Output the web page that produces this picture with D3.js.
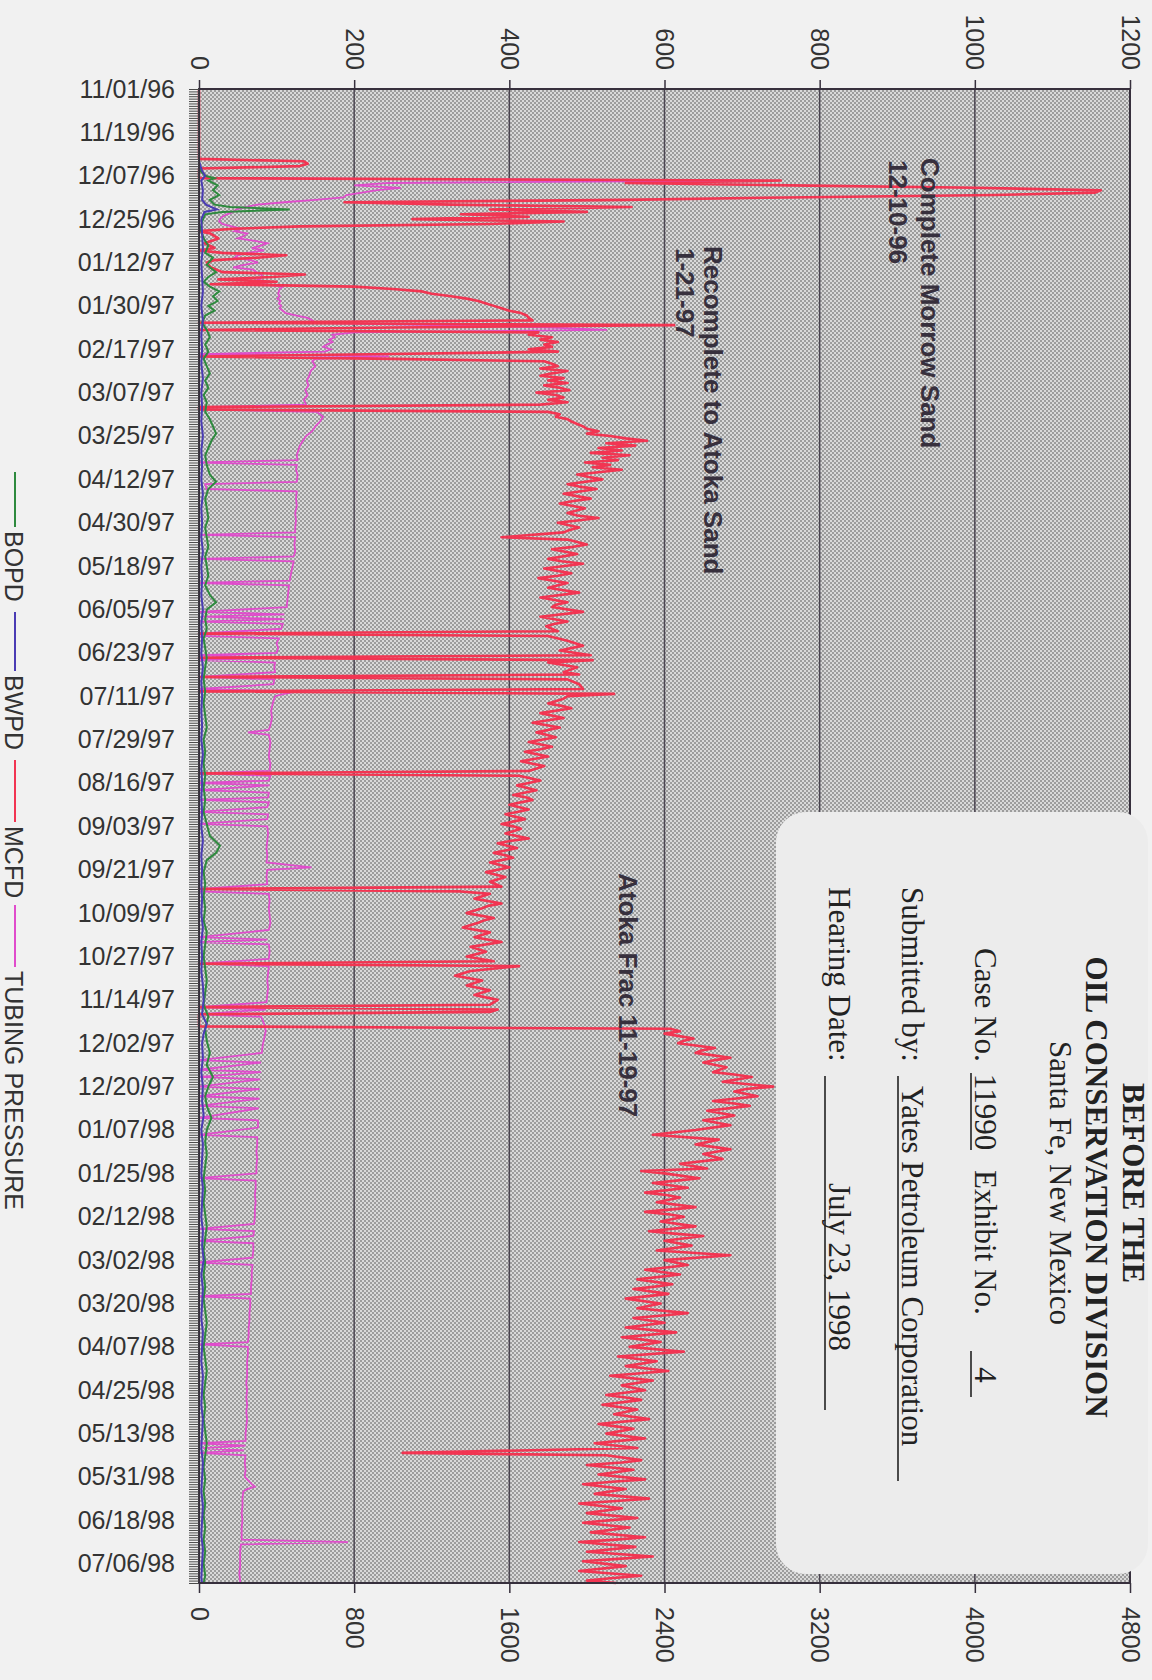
<!DOCTYPE html>
<html>
<head>
<meta charset="utf-8">
<script src="https://cdn.jsdelivr.net/npm/d3@7"></script>
<style>
body{margin:0;background:#f1f1f1;}
svg{display:block;}
</style>
</head>
<body>
<svg width="1152" height="1680"></svg>
<script>
// date labels down the side (every 18 days)
const dateLabels=['11/01/96','11/19/96','12/07/96','12/25/96','01/12/97','01/30/97','02/17/97','03/07/97','03/25/97',
  '04/12/97','04/30/97','05/18/97','06/05/97','06/23/97','07/11/97','07/29/97','08/16/97','09/03/97','09/21/97',
  '10/09/97','10/27/97','11/14/97','12/02/97','12/20/97','01/07/98','01/25/98','02/12/98','03/02/98','03/20/98',
  '04/07/98','04/25/98','05/13/98','05/31/98','06/18/98','07/06/98'];
const pressTicks=[0,200,400,600,800,1000,1200];
const gasTicks=[0,800,1600,2400,3200,4000,4800];

// [days since 11/01/96, value]
const mcfd=[[0,0],[29,0],[30,540],[31,560],[32,520],[33,0],[37,0],
[38,3000],[39,2200],[40,3050],[41,4000],[42,4650],[43,4620],[44,4100],[45,3030],[46,2200],[47,750],
[48,1300],[49,2230],[50,1500],[51,2000],[52,1350],[53,1700],[54,1100],[55,1880],[56,1500],[57,520],[58,180],[59,0],
[60,60],[62,100],[64,30],[66,80],[67,0],[68,120],[69,450],[70,300],[71,80],[72,40],[74,60],[76,120],[77,546],
[78,380],[79,100],[80,400],[81,60],
[82,800],[83,1000],[84,1150],[85,1200],[86,1300],[87,1380],[88,1440],[89,1480],[90,1520],[91,1560],[92,1600],
[93,1660],[94,1690],[95,1700],[96,1720],[97,0],[98,2450],[99,1000],[100,0],
[101,1750],[102,1700],[103,1820],[104,1760],[105,1850],[106,1780],[107,1820],[108,1700],[109,1850],[110,980],[111,0],
[112,1000],[113,1780],[114,1820],[115,1850],[116,1760],[117,1900],[118,1820],[119,1760],[120,1880],[121,1800],
[122,1900],[123,1780],[124,1860],[125,1910],[126,1740],[127,1840],[128,1880],[129,1800],[130,1900],[131,1760],
[132,0],[133,0],[134,1800],[135,1860],[136,1840],[137,1900],[138,1920],[139,1950],[140,1980],[141,2000],[142,2060],
[143,2000],[144,2120],[145,2200],[146,2310],[147,2100],[148,2250],[149,2060],[150,2180],[151,2020],[152,2220],
[153,2080],[154,2160],[155,1990],[156,2120],[157,2030],[158,2180],[160,1950],[161,2010],[162,2080],[164,1900],
[165,1960],[166,2050],[168,1880],[170,2020],[171,1930],[172,1860],[174,1990],[176,1900],[177,1950],[178,2060],
[180,1850],[182,1960],[183,1910],[184,1880],[186,1560],[187,1900],[189,2000],[190,1930],[191,1820],[193,1950],
[195,1800],[196,1870],[197,1980],[199,1780],[201,1920],[202,1850],[203,1750],[205,1900],[207,1800],[208,1880],
[209,1960],[211,1760],[213,1900],[214,1840],[215,1820],[217,1980],[219,1760],[221,1900],[222,1830],[223,1790],
[225,1850],[226,0],[227,1800],[229,1900],[231,1980],[233,1860],[235,2020],[236,0],[237,2030],[238,1800],
[240,1950],[242,1880],[243,1960],[244,0],[245,1900],[247,1960],[249,1980],[250,0],[251,2140],[252,1900],
[253,1880],[255,1800],[256,1870],[257,1920],[259,1760],[261,1880],[262,1800],[263,1720],[265,1860],[267,1740],
[268,1790],[269,1840],[271,1700],[273,1820],[274,1760],[275,1680],[277,1800],[279,1660],[280,1720],[281,1780],
[283,1700],[284,0],[285,1650],[287,1760],[288,1700],[289,1640],[291,1740],[293,1620],[294,1690],[295,1720],
[297,1600],[299,1700],[300,1640],[301,1580],[303,1680],[305,1560],[306,1620],[307,1660],[309,1580],[311,1700],
[312,1610],[313,1540],[315,1640],[317,1520],[318,1580],[319,1620],[321,1500],[323,1600],[324,1540],[325,1480],
[327,1580],[329,1500],[331,1560],[332,0],[333,1350],[334,1500],[336,1420],[338,1560],[339,1490],[340,1460],
[342,1380],[344,1520],[345,1470],[346,1440],[348,1360],[350,1500],[352,1420],[354,1560],[356,1400],[358,1480],
[360,1380],[362,1520],[363,0],[364,1650],[366,1400],[368,1320],[370,1460],[372,1380],[374,1500],[376,1420],
[378,1540],[380,1500],[381,0],[382,1540],[383,1500],[384,0],[389,0],
[390,2430],[391,2480],[392,2400],[394,2550],[395,2500],[396,2470],[398,2660],[399,2590],[400,2560],[402,2740],
[403,2660],[404,2600],[406,2720],[408,2650],[409,2760],[410,2850],[412,2700],[414,2960],[415,2820],[416,2760],
[418,2880],[420,2650],[421,2760],[422,2840],[424,2620],[426,2760],[427,2690],[428,2600],[430,2740],[432,2560],
[434,2340],[436,2680],[438,2560],[439,2650],[440,2740],[442,2600],[444,2700],[446,2480],[448,2620],[449,2280],
[450,2400],[452,2580],[453,2460],[454,2340],[456,2520],[458,2300],[459,2410],[460,2480],[462,2360],[464,2560],
[466,2300],[467,2420],[468,2500],[470,2380],[472,2560],[474,2320],[475,2450],[476,2600],[478,2400],[480,2540],
[482,2360],[484,2740],[486,2400],[488,2520],[489,2420],[490,2300],[492,2480],[494,2260],[496,2440],[497,2350],
[498,2240],[500,2420],[502,2200],[504,2380],[506,2260],[508,2520],[509,2390],[510,2240],[512,2400],[514,2200],
[516,2460],[518,2180],[519,2290],[520,2380],[522,2220],[524,2500],[526,2160],[528,2360],[530,2200],[531,2310],
[532,2420],[534,2120],[536,2340],[538,2180],[540,2300],[542,2100],[543,2200],[544,2280],[546,2080],[548,2260],
[550,2140],[552,2320],[554,2060],[555,2150],[556,2240],[558,2100],[560,2300],[562,2040],[564,2260],
[566,1050],[567,2100],[569,2280],[570,2180],[571,2000],[573,2240],[575,2060],[577,2300],[578,2130],[579,1980],
[581,2200],[583,2040],[585,2320],[586,2150],[587,1960],[589,2180],[591,2000],[593,2260],[594,2110],[595,1980],
[597,2220],[599,2020],[601,2300],[602,2150],[603,1960],[605,2250],[607,2000],[609,2340],[610,2160],[611,1980],
[613,2200],[615,1960],[617,2280],[618,2120],[619,2000],[620,2150]];

const tubing=[[0,0],[37,0],[38,724],[39,245],[40,200],[41,260],[42,230],[43,210],[44,190],[45,186],[46,150],
[47,110],[48,75],[49,60],[50,48],[51,44],[52,36],[53,30],[54,27],[55,26],[56,30],[57,42],[58,55],[59,46],[60,62],
[61,58],[62,50],[63,72],[64,88],[65,80],[66,68],[67,84],[68,62],[69,50],[70,46],[71,66],[72,76],[73,58],[74,44],
[75,70],[76,74],[77,80],[78,82],[79,76],[80,84],[81,82],[82,108],[83,104],[84,103],[85,102],[86,104],[87,101],
[88,105],[89,103],[90,106],[91,104],[92,108],[93,112],[94,126],[95,140],[96,146],[97,150],[98,300],[99,455],
[100,526],[101,200],[102,172],[103,175],[104,168],[105,172],[106,165],[107,160],[108,170],[109,162],[110,0],
[111,245],[112,150],[113,146],[115,150],[117,144],[119,142],[121,139],[123,141],[125,137],[127,140],[129,135],
[131,138],[132,0],[133,0],[134,152],[136,160],[138,156],[140,150],[142,146],[144,138],[146,134],[148,130],
[150,128],[152,126],[154,127],[155,0],[156,126],[158,125],[160,127],[163,126],[164,8],[166,10],[167,126],
[170,125],[173,126],[176,124],[179,125],[182,124],[184,124],[185,0],[186,124],[189,123],[192,124],[194,122],
[195,0],[196,122],[199,120],[202,118],[204,117],[205,0],[206,116],[209,115],[212,114],[215,113],[217,0],
[218,110],[219,5],[220,110],[221,0],[222,108],[224,106],[226,0],[227,0],[228,103],[230,100],[232,102],[234,100],
[235,0],[236,99],[237,0],[238,98],[240,97],[242,98],[244,0],[245,97],[247,96],[249,0],[250,126],[251,110],
[252,98],[255,95],[258,93],[261,94],[264,92],[266,90],[267,63],[268,90],[271,92],[274,91],[277,90],[280,92],
[283,91],[284,0],[285,92],[287,90],[288,0],[289,91],[291,0],[292,90],[294,89],[295,0],[296,90],[298,88],[300,0],
[301,89],[303,88],[305,0],[306,88],[309,89],[312,88],[315,87],[318,88],[321,87],[323,145],[324,88],[327,87],
[330,88],[332,0],[333,0],[334,90],[337,91],[340,90],[343,91],[346,92],[349,90],[352,0],[353,88],[354,0],
[355,90],[358,91],[361,90],[363,0],[364,90],[367,89],[370,88],[373,89],[376,88],[379,87],[381,0],[382,86],
[384,0],[385,80],[388,84],[391,86],[394,84],[397,82],[400,81],[403,0],[404,80],[407,0],[408,80],[410,0],
[411,79],[414,0],[415,78],[418,0],[419,78],[422,0],[423,77],[427,0],[428,76],[431,76],[434,0],[435,75],
[438,75],[441,74],[444,75],[447,74],[450,74],[452,0],[453,73],[456,73],[459,72],[462,73],[465,72],[468,72],
[471,71],[473,0],[474,71],[476,70],[478,0],[479,70],[482,70],[485,69],[487,0],[488,69],[491,68],[494,68],
[497,67],[500,67],[501,0],[502,66],[505,66],[508,65],[511,65],[514,64],[517,64],[520,63],[521,0],[522,63],
[525,63],[528,62],[531,62],[534,62],[537,61],[540,62],[543,61],[546,62],[549,61],[552,62],[555,61],[558,60],
[561,60],[562,0],[563,60],[564,5],[565,58],[566,0],[567,60],[570,59],[573,60],[576,59],[579,68],[580,72],
[581,62],[582,57],[585,56],[588,56],[591,55],[594,56],[597,55],[600,55],[602,55],[603,192],[604,54],[607,53],
[610,53],[613,53],[616,52],[619,53],[620,53]];

const bopd=[[0,0],[30,0],[34,2],[36,8],[37,20],[38,12],[40,24],[42,18],[44,26],[46,14],[48,20],[49,40],[50,117],
[51,30],[52,8],[55,4],[58,2],[62,6],[65,12],[68,8],[70,18],[73,10],[76,22],[78,12],[80,6],[82,14],[84,26],[86,18],
[88,24],[90,12],[92,20],[94,8],[97,4],[100,10],[103,14],[106,8],[109,12],[112,6],[115,10],[118,14],[121,8],
[124,12],[127,6],[130,10],[134,8],[137,14],[140,18],[143,22],[146,16],[149,12],[152,8],[156,10],[160,14],
[163,22],[166,12],[170,8],[174,10],[178,12],[182,8],[186,10],[190,12],[194,8],[198,10],[202,12],[206,8],
[210,14],[213,22],[216,10],[220,8],[224,10],[228,6],[232,8],[236,10],[240,8],[245,6],[250,8],[255,6],[260,8],
[265,10],[270,6],[275,8],[280,6],[285,8],[290,6],[295,8],[300,6],[305,10],[310,14],[314,27],[317,22],[320,10],
[325,6],[330,8],[335,6],[340,8],[345,6],[350,10],[355,8],[360,6],[365,8],[370,10],[375,8],[380,6],[385,12],
[390,8],[395,10],[400,14],[405,10],[410,18],[414,12],[418,8],[422,10],[427,16],[432,10],[437,8],[442,10],
[447,8],[452,6],[457,8],[462,6],[467,8],[472,10],[477,8],[482,6],[487,8],[492,6],[497,8],[502,6],[507,8],
[512,10],[517,8],[522,6],[527,8],[532,10],[537,8],[542,6],[547,8],[552,6],[557,8],[562,10],[567,8],[572,6],
[577,8],[582,6],[587,8],[592,6],[597,8],[602,6],[607,8],[612,6],[617,8],[620,6]];

const bwpd=[[0,0],[30,0],[34,4],[36,8],[38,3],[42,5],[46,4],[48,9],[50,23],[51,7],[54,3],[60,4],[66,5],[72,3],
[78,4],[84,5],[90,3],[96,5],[102,3],[108,4],[114,3],[120,5],[126,3],[132,4],[138,3],[144,5],[150,3],[156,4],
[162,3],[168,5],[174,3],[180,4],[186,3],[192,5],[198,3],[204,4],[210,3],[216,5],[222,3],[228,4],[234,3],[240,5],
[246,3],[252,4],[258,3],[264,4],[270,3],[276,5],[282,3],[288,4],[294,3],[300,4],[306,3],[312,5],[318,3],[324,4],
[330,3],[336,4],[342,3],[348,5],[354,3],[360,4],[366,3],[372,5],[378,6],[384,4],[388,10],[392,6],[396,4],
[402,5],[408,3],[414,5],[420,4],[426,6],[432,3],[438,5],[444,4],[450,3],[456,5],[462,4],[468,3],[474,5],
[480,4],[486,6],[492,3],[498,5],[504,4],[510,3],[516,5],[522,4],[528,3],[534,5],[540,4],[546,3],[552,5],
[558,4],[564,3],[570,5],[576,4],[582,3],[588,5],[594,4],[600,3],[606,5],[612,4],[618,3],[620,4]];

const svg=d3.select('svg');
const sans='"Liberation Sans", Arial, sans-serif';
const serif='"Liberation Serif", "Times New Roman", serif';
const ink='#37303d';

const plotLeft=199, plotRight=1130, plotTop=89, plotBottom=1583;
const startMs=Date.UTC(1996,10,1);
const day=d=>new Date(startMs+d*864e5);
const parseDate=d3.utcParse('%m/%d/%y');

const y=d3.scaleUtc().domain([day(0),day(620)]).range([plotTop,plotBottom]);
const xPress=d3.scaleLinear().domain([0,1200]).range([plotLeft,plotRight]);
const xGas=d3.scaleLinear().domain([0,4800]).range([plotLeft,plotRight]);

// stipple background
const defs=svg.append('defs');
const pat=defs.append('pattern').attr('id','stipple')
    .attr('width',4).attr('height',4).attr('patternUnits','userSpaceOnUse');
pat.append('rect').attr('width',4).attr('height',4).attr('fill','#d9d9d9');
pat.append('rect').attr('width',2).attr('height',2).attr('fill','#9c9c9c');
pat.append('rect').attr('x',2).attr('y',2).attr('width',2).attr('height',2).attr('fill','#9c9c9c');

svg.append('rect')
    .attr('x',plotLeft).attr('y',plotTop)
    .attr('width',plotRight-plotLeft).attr('height',plotBottom-plotTop)
    .attr('fill','url(#stipple)');

// grid
svg.append('g').selectAll('line')
    .data(pressTicks.slice(1,-1))
    .join('line')
    .attr('x1',d=>xPress(d)).attr('x2',d=>xPress(d))
    .attr('y1',plotTop).attr('y2',plotBottom)
    .attr('stroke','#4a4450').attr('stroke-width',1.5);

// series
const lineP=d3.line().x(d=>xPress(d[1])).y(d=>y(day(d[0])));
const lineG=d3.line().x(d=>xGas(d[1])).y(d=>y(day(d[0])));

svg.append('path').datum(tubing).attr('d',lineP)
    .attr('fill','none').attr('stroke','#e04ccc').attr('stroke-width',1.8);
svg.append('path').datum(mcfd).attr('d',lineG)
    .attr('fill','none').attr('stroke','#f23552').attr('stroke-width',2.6).attr('stroke-linejoin','round');
svg.append('path').datum(bopd).attr('d',lineP)
    .attr('fill','none').attr('stroke','#2e8a3e').attr('stroke-width',2);
svg.append('path').datum(bwpd).attr('d',lineP)
    .attr('fill','none').attr('stroke','#4a3cb4').attr('stroke-width',2);

// frame
svg.append('rect')
    .attr('x',plotLeft).attr('y',plotTop)
    .attr('width',plotRight-plotLeft).attr('height',plotBottom-plotTop)
    .attr('fill','none').attr('stroke',ink).attr('stroke-width',2);

// daily ticks
const dayAxis=svg.append('g')
    .attr('transform',`translate(${plotLeft},0)`)
    .call(d3.axisLeft(y).ticks(d3.utcDay.every(1)).tickFormat('').tickSize(10));
dayAxis.select('.domain').remove();
dayAxis.selectAll('line').attr('stroke','#4a4a4a').attr('stroke-width',1);

// date labels
const dateAxis=svg.append('g')
    .attr('transform',`translate(${plotLeft},0)`)
    .call(d3.axisLeft(y).tickValues(dateLabels.map(parseDate))
        .tickFormat(d3.utcFormat('%m/%d/%y')).tickSize(0).tickPadding(24));
dateAxis.select('.domain').remove();
dateAxis.selectAll('text').attr('font-family',sans).attr('font-size',25).attr('fill','#333');

// top axis (pressure / bbl)
const topAxis=svg.append('g')
    .attr('transform',`translate(0,${plotTop})`)
    .call(d3.axisTop(xPress).tickValues(pressTicks).tickFormat(d3.format('d')).tickSize(9));
topAxis.select('.domain').remove();
topAxis.selectAll('line').attr('stroke',ink).attr('stroke-width',1.5);
topAxis.selectAll('text')
    .attr('transform','rotate(90)').attr('x',-19).attr('y',0).attr('dy','0.36em')
    .attr('text-anchor','end')
    .attr('font-family',sans).attr('font-size',25).attr('fill','#333');

// bottom axis (MCFD)
const botAxis=svg.append('g')
    .attr('transform',`translate(0,${plotBottom})`)
    .call(d3.axisBottom(xGas).tickValues(gasTicks).tickFormat(d3.format('d')).tickSize(10));
botAxis.select('.domain').remove();
botAxis.selectAll('line').attr('stroke',ink).attr('stroke-width',1.5);
botAxis.selectAll('text')
    .attr('transform','rotate(90)').attr('x',24).attr('y',0).attr('dy','0.36em')
    .attr('text-anchor','start')
    .attr('font-family',sans).attr('font-size',25).attr('fill','#333');

// annotations
const notes=[
  {t:'Complete Morrow Sand',x:921,y:158},
  {t:'12-10-96',x:889,y:160},
  {t:'Recomplete to Atoka Sand',x:704,y:246},
  {t:'1-21-97',x:676,y:248},
  {t:'Atoka Frac 11-19-97',x:619,y:873}
];
svg.append('g').selectAll('text').data(notes).join('text')
    .attr('transform',d=>`translate(${d.x},${d.y}) rotate(90)`)
    .attr('font-family',sans).attr('font-size',26).attr('font-weight','bold')
    .attr('fill',ink).text(d=>d.t);

// legend
const legend=[
  {name:'BOPD',color:'#2e8a3e',l0:472,l1:527,t:531},
  {name:'BWPD',color:'#4a3cb4',l0:612,l1:671,t:675},
  {name:'MCFD',color:'#f23552',l0:760,l1:822,t:826},
  {name:'TUBING PRESSURE',color:'#e04ccc',l0:905,l1:967,t:971}
];
const lg=svg.append('g');
lg.selectAll('line').data(legend).join('line')
    .attr('x1',15).attr('x2',15).attr('y1',d=>d.l0).attr('y2',d=>d.l1)
    .attr('stroke',d=>d.color).attr('stroke-width',2);
lg.selectAll('text').data(legend).join('text')
    .attr('transform',d=>`translate(5,${d.t}) rotate(90)`)
    .attr('font-family',sans).attr('font-size',25).attr('fill','#333')
    .text(d=>d.name);

// hearing exhibit stamp
svg.append('rect')
    .attr('x',776).attr('y',812).attr('width',372).attr('height',762).attr('rx',30)
    .attr('fill','#ececec');
const st=svg.append('g').attr('transform','translate(1150,887) rotate(90)')
    .attr('font-family',serif).attr('font-size',31).attr('fill','#222');
st.append('text').attr('x',296).attr('y',27).attr('text-anchor','middle').attr('font-weight','bold').text('BEFORE THE');
st.append('text').attr('x',300).attr('y',64).attr('text-anchor','middle').attr('font-weight','bold').text('OIL CONSERVATION DIVISION');
st.append('text').attr('x',296).attr('y',100).attr('text-anchor','middle').text('Santa Fe, New Mexico');
const rows=[
  {ly:175,parts:[{t:'Case No.',x:61},{t:'11990',x:225,mid:true},{t:'Exhibit No.',x:283},{t:'4',x:488,mid:true}],
   rules:[[186,263],[464,510]]},
  {ly:248,parts:[{t:'Submitted by:',x:0},{t:'Yates Petroleum Corporation',x:199}],rules:[[189,594]]},
  {ly:321,parts:[{t:'Hearing Date:',x:0},{t:'July 23, 1998',x:296}],rules:[[189,523]]}
];
rows.forEach(r=>{
  r.parts.forEach(p=>{
    st.append('text').attr('x',p.x).attr('y',r.ly)
      .attr('text-anchor',p.mid?'middle':'start').text(p.t);
  });
  r.rules.forEach(u=>{
    st.append('line').attr('x1',u[0]).attr('x2',u[1]).attr('y1',r.ly+4).attr('y2',r.ly+4)
      .attr('stroke','#222').attr('stroke-width',1.6);
  });
});
</script>
</body>
</html>
